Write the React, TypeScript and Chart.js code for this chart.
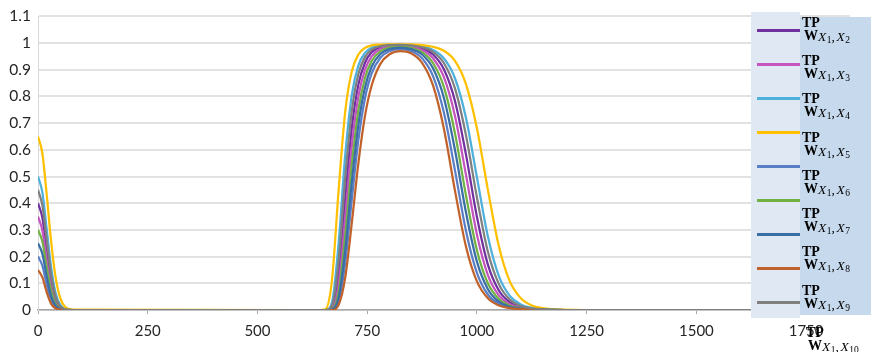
import React, { useEffect, useRef } from "react";
import { Chart, registerables } from "chart.js";

Chart.register(...registerables);

// x positions (shared by every series)
const X_VALUES = [0, 10, 20, 30, 40, 50, 60, 80, 600, 640, 655, 670, 685, 700, 715, 730, 745, 760, 780, 800, 825, 850, 875, 900, 925, 950, 975, 1000, 1025, 1050, 1075, 1100, 1125, 1150, 1200, 1250, 1850];

const purpleX2 = [0.4, 0.345, 0.221, 0.106, 0.038, 0.01, 0.002, 0, 0, 0, 0, 0.01, 0.135, 0.419, 0.683, 0.845, 0.926, 0.965, 0.985, 0.991, 0.992, 0.989, 0.98, 0.957, 0.901, 0.783, 0.583, 0.349, 0.17, 0.073, 0.029, 0.011, 0.004, 0.002, 0, 0, 0];
const magentaX3 = [0.35, 0.298, 0.184, 0.083, 0.027, 0.006, 0.001, 0, 0, 0, 0, 0.006, 0.097, 0.346, 0.616, 0.8, 0.9, 0.95, 0.978, 0.987, 0.99, 0.986, 0.974, 0.943, 0.871, 0.727, 0.507, 0.283, 0.131, 0.055, 0.022, 0.008, 0.003, 0.001, 0, 0, 0];
const lightBlueX4 = [0.5, 0.44, 0.3, 0.159, 0.065, 0.021, 0.005, 0, 0, 0, 0, 0.03, 0.252, 0.581, 0.806, 0.916, 0.963, 0.982, 0.991, 0.993, 0.994, 0.992, 0.987, 0.974, 0.942, 0.868, 0.72, 0.497, 0.275, 0.127, 0.053, 0.021, 0.008, 0.003, 0, 0, 0];
const goldX5 = [0.65, 0.586, 0.429, 0.255, 0.123, 0.048, 0.015, 0.001, 0, 0, 0.003, 0.116, 0.451, 0.744, 0.894, 0.957, 0.982, 0.991, 0.994, 0.995, 0.995, 0.995, 0.992, 0.986, 0.971, 0.933, 0.846, 0.681, 0.45, 0.239, 0.107, 0.044, 0.017, 0.007, 0.001, 0, 0];
const blueX6 = [0.2, 0.166, 0.094, 0.036, 0.01, 0.002, 0, 0, 0, 0, 0, 0.001, 0.033, 0.178, 0.415, 0.638, 0.793, 0.885, 0.945, 0.969, 0.977, 0.97, 0.943, 0.876, 0.738, 0.523, 0.297, 0.139, 0.058, 0.023, 0.009, 0.003, 0.001, 0, 0, 0, 0];
const greenX7 = [0.3, 0.256, 0.158, 0.071, 0.023, 0.005, 0.001, 0, 0, 0, 0, 0.003, 0.068, 0.28, 0.546, 0.749, 0.869, 0.932, 0.969, 0.983, 0.987, 0.982, 0.966, 0.925, 0.834, 0.662, 0.43, 0.224, 0.1, 0.041, 0.016, 0.006, 0.002, 0.001, 0, 0, 0];
const darkBlueX8 = [0.25, 0.21, 0.125, 0.052, 0.016, 0.003, 0, 0, 0, 0, 0, 0.002, 0.048, 0.225, 0.48, 0.695, 0.833, 0.911, 0.959, 0.977, 0.983, 0.977, 0.957, 0.905, 0.793, 0.599, 0.366, 0.181, 0.078, 0.031, 0.012, 0.005, 0.002, 0.001, 0, 0, 0];
const brownX9 = [0.15, 0.122, 0.066, 0.023, 0.006, 0.001, 0, 0, 0, 0, 0, 0, 0.019, 0.122, 0.327, 0.551, 0.727, 0.84, 0.922, 0.957, 0.97, 0.962, 0.926, 0.841, 0.677, 0.447, 0.238, 0.107, 0.044, 0.017, 0.007, 0.003, 0.001, 0, 0, 0, 0];
const grayX10 = [0.45, 0.392, 0.26, 0.131, 0.05, 0.015, 0.003, 0, 0, 0, 0, 0.017, 0.186, 0.497, 0.746, 0.884, 0.947, 0.975, 0.988, 0.992, 0.993, 0.991, 0.984, 0.967, 0.924, 0.83, 0.655, 0.422, 0.218, 0.097, 0.039, 0.015, 0.006, 0.002, 0, 0, 0];

const SERIES_VALUES = [purpleX2, magentaX3, lightBlueX4, goldX5, blueX6, greenX7, darkBlueX8, brownX9, grayX10];
const SERIES_NAMES = ["X1,X2", "X1,X3", "X1,X4", "X1,X5", "X1,X6", "X1,X7", "X1,X8", "X1,X9", "X1,X10"];
const COLORS = ["#7030a0", "#c454c0", "#4fb0dc", "#ffc000", "#5b7fc6", "#72b043", "#3a6ea6", "#c0622a", "#7f7f7f"];

// legend label subscripts (second X index)
const LEGEND_INDEX = ["2", "3", "4", "5", "6", "7", "8", "9", "10"];

const X_MAX = 1850;
const X_STEP = 250;
const X_TICKS = [0, 250, 500, 750, 1000, 1250, 1500, 1750];
const Y_MAX = 1.1;
const Y_STEP = 0.1;

// legend layout
const LINE_Y = [30, 64, 98, 132, 166, 200, 234, 268, 302];
const LABEL_TOP = [19, 57, 95, 134, 172, 210, 248, 287, 329];
const LABEL_LEFT = [802, 802, 802, 802, 802, 802, 802, 802, 806];

function Label({ idx, top, left }: { idx: string; top: number; left: number }) {
  const serif = '"Liberation Serif", "Times New Roman", serif';
  return (
    <div style={{ position: "absolute", left, top: top - 3, fontFamily: serif, color: "#000", whiteSpace: "nowrap" }}>
      <div style={{ position: "absolute", left: 0, top: 0, fontWeight: "bold", fontSize: 14, lineHeight: "14px" }}>TP</div>
      <div style={{ position: "absolute", left: 2, top: 13, fontWeight: "bold", fontSize: 14, lineHeight: "14px" }}>W</div>
      <div style={{ position: "absolute", left: 16, top: 14, fontSize: 13.5, lineHeight: "14px" }}>
        <span style={{ fontStyle: "italic", marginRight: 0.5 }}>X</span>
        <span style={{ fontSize: 9.5, position: "relative", top: 2 }}>1</span>
        <span style={{ marginRight: 1.5 }}>,</span>
        <span style={{ fontStyle: "italic", marginRight: 0.5 }}>X</span>
        <span style={{ fontSize: 9.5, position: "relative", top: 2 }}>{idx}</span>
      </div>
    </div>
  );
}

export default function App() {
  const ref = useRef<HTMLCanvasElement | null>(null);

  useEffect(() => {
    if (!ref.current) return;
    const chart = new Chart(ref.current, {
      type: "line",
      data: {
        datasets: SERIES_VALUES.map((vals, i) => ({
          label: SERIES_NAMES[i],
          data: X_VALUES.map((x, j) => ({ x, y: vals[j] })),
          borderColor: COLORS[i],
          backgroundColor: COLORS[i],
          borderWidth: 2.25,
          pointRadius: 0,
          fill: false,
          cubicInterpolationMode: "monotone",
          order: SERIES_VALUES.length - i,
        })),
      },
      options: {
        responsive: false,
        animation: false,
        layout: { padding: { top: 12, right: 21, bottom: 0, left: 0 } },
        plugins: { legend: { display: false }, tooltip: { enabled: false } },
        scales: {
          x: {
            type: "linear",
            min: 0,
            max: X_MAX,
            afterBuildTicks: (s: any) => {
              s.ticks = X_TICKS.map((v) => ({ value: v }));
            },
            afterFit: (s: any) => {
              s.height = 42;
            },
            ticks: {
              stepSize: X_STEP,
              autoSkip: false,
              maxRotation: 0,
              padding: 8,
              color: "#262626",
              font: { family: "Lato", size: 15 },
              callback: (v: any) => String(v),
            },
            grid: { display: true, drawOnChartArea: false, drawTicks: true, tickLength: 4, color: "#a6a6a6" },
            border: { display: true, color: "#a6a6a6", width: 1.5 },
          },
          y: {
            min: 0,
            max: Y_MAX,
            afterFit: (s: any) => {
              s.width = 38;
            },
            ticks: {
              stepSize: Y_STEP,
              padding: 7,
              color: "#262626",
              font: { family: "Lato", size: 15.5 },
              callback: (v: any) => Number(v).toFixed(1).replace(/\.0$/, ""),
            },
            grid: { color: "#e2e2e2", lineWidth: 2, drawTicks: false },
            border: { display: true, color: "#d9d9d9", width: 1 },
          },
        },
      },
    } as any);
    return () => chart.destroy();
  }, []);

  return (
    <div style={{ position: "fixed", left: 0, top: 0, width: 871, height: 352, background: "#fff", overflow: "hidden" }}>
      <canvas ref={ref} width={871} height={352} style={{ position: "absolute", left: 0, top: 0 }} />
      <div style={{ position: "absolute", left: 751, top: 12, width: 49, height: 306, background: "#dfe8f3" }} />
      <div style={{ position: "absolute", left: 800, top: 17, width: 71, height: 298, background: "#c6d9ed" }} />
      {COLORS.map((c, i) => (
        <div key={"l" + i} style={{ position: "absolute", left: 757, top: LINE_Y[i] - 1, width: 43, height: 2.5, background: c }} />
      ))}
      {LEGEND_INDEX.map((idx, i) => (
        <Label key={"t" + i} idx={idx} top={LABEL_TOP[i]} left={LABEL_LEFT[i]} />
      ))}
    </div>
  );
}
